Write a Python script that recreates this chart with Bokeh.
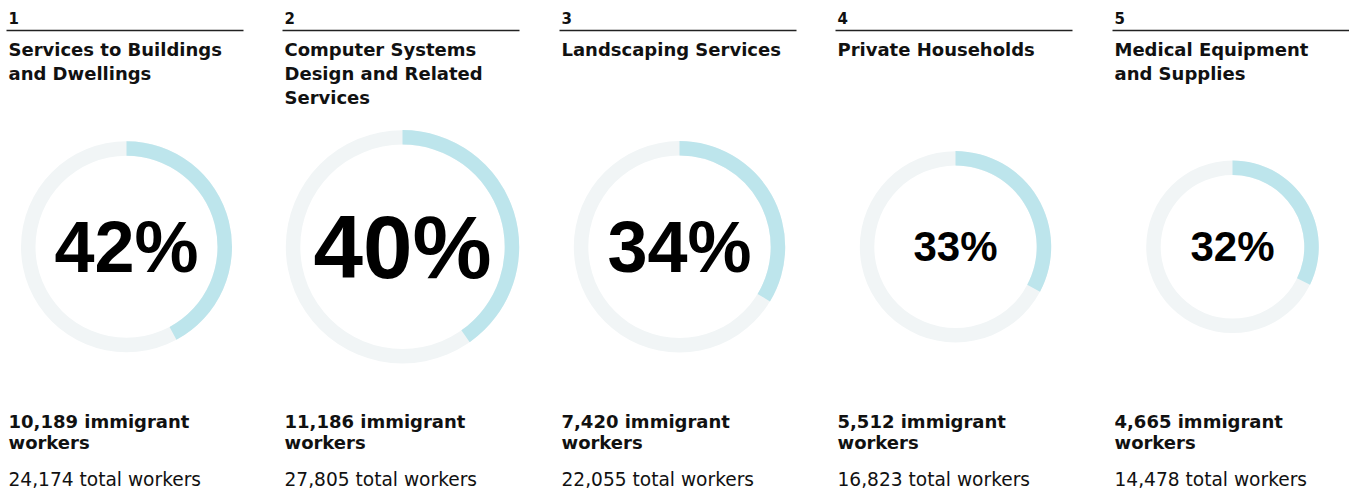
import math
from bokeh.plotting import figure
from bokeh.models import Range1d, ColumnDataSource
from bokeh.core.properties import value
from bokeh.embed import file_html
from bokeh.resources import INLINE

# ---------------- data ----------------
ranks = ["1", "2", "3", "4", "5"]
industries = [
    "Services to Buildings\nand Dwellings",
    "Computer Systems\nDesign and Related\nServices",
    "Landscaping Services",
    "Private Households",
    "Medical Equipment\nand Supplies",
]
immigrant_workers = [10189, 11186, 7420, 5512, 4665]
total_workers = [24174, 27805, 22055, 16823, 14478]

# ---------------- layout / style ----------------
W, H = 1349, 490
col_x = [8, 284, 561, 837, 1114]          # left edge of each column (page px)
ring_outer = [105.5, 116.7, 105.7, 95.7, 86.3]
ring_width = 14.5
pct_font = [72, 89, 72, 42, 42]
ring_cy = 246.3
BLUE = "#bde5ec"
GREY = "#f1f5f6"
INK = "#111111"
BOLD_FONT = value("DejaVu Sans")

p = figure(width=W, height=H,
           x_range=Range1d(0, W), y_range=Range1d(-H, 0),
           output_backend="svg", toolbar_location=None,
           x_axis_location=None, y_axis_location=None, min_border=0)
p.grid.visible = False
p.outline_line_color = None
p.background_fill_color = "white"
p.border_fill_color = "white"

n = len(ranks)
share = [i / t for i, t in zip(immigrant_workers, total_workers)]
cx = [x + 118 for x in col_x]
cy = [-ring_cy] * n

# rings
ring_src = ColumnDataSource(dict(
    x=cx, y=cy,
    outer=ring_outer,
    inner=[r - ring_width for r in ring_outer],
    start=[math.pi / 2] * n,
    end=[math.pi / 2 - s * 2 * math.pi for s in share],
))
p.annulus(x="x", y="y", inner_radius="inner", outer_radius="outer",
          source=ring_src, fill_color=GREY, line_color=None)
p.annular_wedge(x="x", y="y", inner_radius="inner", outer_radius="outer",
                start_angle="start", end_angle="end", direction="clock",
                source=ring_src, fill_color=BLUE, line_color=None)

# percentage labels
pct_src = ColumnDataSource(dict(
    x=cx,
    y=cy,
    t=[f"{round(s * 100)}%" for s in share],
    fs=[f"{f}px" for f in pct_font],
))
p.text(x="x", y="y", text="t", source=pct_src, text_font_size="fs",
       text_font=value("Liberation Sans"), text_font_style="bold",
       text_align="center", text_baseline="middle", text_color="#000000")

# rank numbers and rules
p.text(x=col_x, y=[-17.2] * n, text=ranks, text_font=BOLD_FONT,
       text_font_style="bold", text_font_size="15px", text_color=INK,
       text_baseline="middle", text_align="left")
p.segment(x0=[x - 2 for x in col_x], y0=[-30] * n,
          x1=[x + 235 for x in col_x], y1=[-30] * n,
          line_color="#222222", line_width=1.3)

# titles
tx, ty, tt = [], [], []
for x, name in zip(col_x, industries):
    for k, line in enumerate(name.split("\n")):
        tx.append(x)
        ty.append(-(48.5 + 24 * k))
        tt.append(line)
p.text(x=tx, y=ty, text=tt, text_font=BOLD_FONT, text_font_style="bold",
       text_font_size="18px", text_color=INK, text_baseline="middle",
       text_align="left")

# bottom stats
bx, by, bt = [], [], []
for x, imm in zip(col_x, immigrant_workers):
    bx += [x, x]
    by += [-420.5, -441.5]
    bt += [f"{imm:,} immigrant", "workers"]
p.text(x=bx, y=by, text=bt, text_font=BOLD_FONT, text_font_style="bold",
       text_font_size="18px", text_color=INK, text_baseline="middle",
       text_align="left")
p.text(x=col_x, y=[-478.5] * n, text=[f"{t:,} total workers" for t in total_workers],
       text_font=value("DejaVu Sans"), text_font_size="18.6px", text_color=INK,
       text_baseline="middle", text_align="left")

open("out.html", "w").write(file_html(p, INLINE))
